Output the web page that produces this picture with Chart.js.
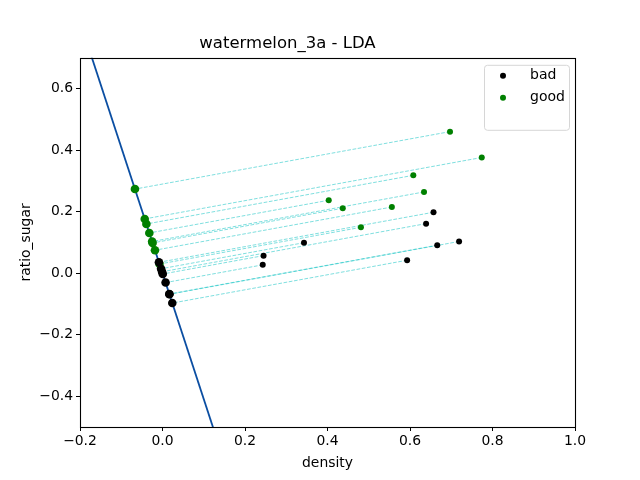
<!DOCTYPE html>
<html>
<head>
<meta charset="utf-8">
<script src="https://cdn.jsdelivr.net/npm/chart.js@4.4.1/dist/chart.umd.min.js"></script>
<style>
  html, body { margin: 0; padding: 0; background: #ffffff; }
  canvas { display: block; }
</style>
</head>
<body>
<canvas id="c" width="640" height="480"></canvas>
<script>
// ---- data (watermelon 3.0a as plotted) ----
const categories = ['bad', 'good'];
const badDensity  = [0.245, 0.243, 0.343, 0.593, 0.666, 0.719, 0.639, 0.657];
const badSugar    = [0.057, 0.027, 0.099, 0.042, 0.091, 0.103, 0.161, 0.198];
const goodDensity = [0.697, 0.774, 0.608, 0.634, 0.403, 0.437, 0.556, 0.481];
const goodSugar   = [0.460, 0.376, 0.318, 0.264, 0.237, 0.211, 0.215, 0.149];
const xTicks = [-0.2, 0.0, 0.2, 0.4, 0.6, 0.8, 1.0];
const yTicks = [-0.4, -0.2, 0.0, 0.2, 0.4, 0.6];
const xRange = [-0.2, 1.0];
const yRange = [-0.5, 0.7];

// ---- LDA direction w = Sw^-1 (mu_bad - mu_good) ----
function mean(a) { return a.reduce((s, v) => s + v, 0) / a.length; }
function scatterMat(xs, ys) {
  const mx = mean(xs), my = mean(ys);
  let sxx = 0, syy = 0, sxy = 0;
  xs.forEach((x, i) => { const dx = x - mx, dy = ys[i] - my; sxx += dx * dx; syy += dy * dy; sxy += dx * dy; });
  return [sxx, sxy, syy];
}
const s0 = scatterMat(badDensity, badSugar), s1 = scatterMat(goodDensity, goodSugar);
const a = s0[0] + s1[0], b = s0[1] + s1[1], d = s0[2] + s1[2];
const det = a * d - b * b;
const dmx = mean(badDensity) - mean(goodDensity), dmy = mean(badSugar) - mean(goodSugar);
let wx = (d * dmx - b * dmy) / det, wy = (-b * dmx + a * dmy) / det;
const wn = Math.hypot(wx, wy); wx /= wn; wy /= wn;

function project(x, y) { const t = x * wx + y * wy; return { x: t * wx, y: t * wy }; }
const badPts  = badDensity.map((x, i) => ({ x: x, y: badSugar[i] }));
const goodPts = goodDensity.map((x, i) => ({ x: x, y: goodSugar[i] }));
const badProj  = badPts.map(p => project(p.x, p.y));
const goodProj = goodPts.map(p => project(p.x, p.y));

// LDA line through the origin along w, spanning past the y range (clipped by the axes)
const tA = yRange[1] / wy * 1.2, tB = yRange[0] / wy * 1.2;
const ldaLine = [{ x: tA * wx, y: tA * wy }, { x: tB * wx, y: tB * wy }];

const GREEN = '#008000', BLACK = '#000000';
const FONT = 'DejaVu Sans';

const datasets = [];
datasets.push({ label: categories[0], type: 'scatter', data: badPts, backgroundColor: BLACK, borderColor: BLACK, pointRadius: 3, borderWidth: 0, order: 0, isClass: true });
datasets.push({ label: categories[1], type: 'scatter', data: goodPts, backgroundColor: GREEN, borderColor: GREEN, pointRadius: 3, borderWidth: 0, order: 0, isClass: true });
datasets.push({ label: 'bad proj', type: 'scatter', data: badProj, backgroundColor: BLACK, borderColor: BLACK, pointRadius: 4.3, borderWidth: 0, order: 1 });
datasets.push({ label: 'good proj', type: 'scatter', data: goodProj, backgroundColor: GREEN, borderColor: GREEN, pointRadius: 4.3, borderWidth: 0, order: 1 });
badPts.concat(goodPts).forEach((p, i) => {
  const q = i < badPts.length ? badProj[i] : goodProj[i - badPts.length];
  datasets.push({ label: 'link', type: 'line', data: [p, q], borderColor: 'rgba(0,191,191,0.5)', borderWidth: 1, borderDash: [3.7, 1.6], pointRadius: 0, fill: false, order: 2 });
});
datasets.push({ label: 'lda', type: 'line', data: ldaLine, borderColor: '#0b4ea2', borderWidth: 1.8, pointRadius: 0, fill: false, order: 3 });

function fmt(v) { const s = Math.abs(v).toFixed(1); return (v < -1e-9 ? '\u2212' : '') + s; }

const spinesPlugin = {
  id: 'spines',
  afterDraw(chart) {
    const { ctx, chartArea: ca } = chart;
    ctx.save();
    ctx.strokeStyle = '#000';
    ctx.lineWidth = 1.1;
    ctx.strokeRect(Math.round(ca.left) + 0.5, Math.round(ca.top) + 0.5, Math.round(ca.right - ca.left), Math.round(ca.bottom - ca.top));
    ctx.restore();
  }
};

const legendPlugin = {
  id: 'mplLegend',
  afterDraw(chart) {
    const { ctx, chartArea: ca } = chart;
    const items = chart.data.datasets.filter(ds => ds.isClass);
    const w = 85, h = 65;
    const x0 = ca.right - 6 - w, y0 = ca.top + 7;
    ctx.save();
    ctx.beginPath();
    ctx.roundRect(x0 + 0.5, y0 + 0.5, w, h, 3);
    ctx.fillStyle = 'rgba(255,255,255,0.8)';
    ctx.fill();
    ctx.strokeStyle = '#d6d6d6';
    ctx.lineWidth = 1;
    ctx.stroke();
    ctx.font = '14px "' + FONT + '"';
    ctx.textBaseline = 'middle';
    ctx.textAlign = 'left';
    items.forEach((ds, i) => {
      const cy = y0 + 11 + i * 22;
      ctx.beginPath();
      ctx.arc(x0 + 19, cy, 3, 0, Math.PI * 2);
      ctx.fillStyle = ds.backgroundColor;
      ctx.fill();
      ctx.fillStyle = '#000';
      ctx.fillText(ds.label, x0 + 46, cy);
    });
    ctx.restore();
  }
};

new Chart(document.getElementById('c'), {
  type: 'scatter',
  data: { datasets: datasets },
  options: {
    responsive: false,
    animation: false,
    devicePixelRatio: 1,
    layout: { padding: { left: 0, right: 65, top: 0, bottom: 0 } },
    plugins: {
      legend: { display: false },
      tooltip: { enabled: false },
      title: {
        display: true,
        text: 'watermelon_3a - LDA',
        color: '#000',
        font: { family: FONT, size: 16.5, weight: 'normal' },
        padding: { top: 34, bottom: 4 }
      }
    },
    scales: {
      x: {
        type: 'linear',
        min: xRange[0], max: xRange[1],
        afterBuildTicks: ax => { ax.ticks = xTicks.map(v => ({ value: v })); },
        afterFit: ax => { ax.height = 53; },
        grid: { drawOnChartArea: false, drawTicks: true, tickLength: 4, tickColor: '#000', tickWidth: 1 },
        border: { display: false },
        ticks: { color: '#000', padding: 2, maxRotation: 0, autoSkip: false, font: { family: FONT, size: 13.9 }, callback: v => fmt(v) },
        title: { display: true, text: 'density', color: '#000', font: { family: FONT, size: 13.9 }, padding: { top: 0, bottom: 8 } }
      },
      y: {
        type: 'linear',
        min: yRange[0], max: yRange[1],
        afterBuildTicks: ax => { ax.ticks = yTicks.map(v => ({ value: v })); },
        afterFit: ax => { ax.width = 80; },
        grid: { drawOnChartArea: false, drawTicks: true, tickLength: 4, tickColor: '#000', tickWidth: 1 },
        border: { display: false },
        ticks: { color: '#000', padding: 3, autoSkip: false, font: { family: FONT, size: 13.9 }, callback: v => fmt(v) },
        title: { display: true, text: 'ratio_sugar', color: '#000', font: { family: FONT, size: 13.9 }, padding: { top: 18, bottom: 0 } }
      }
    }
  },
  plugins: [spinesPlugin, legendPlugin]
});
</script>
</body>
</html>
